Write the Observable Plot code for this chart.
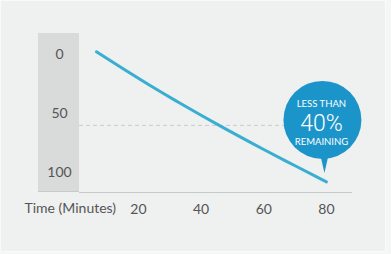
<!DOCTYPE html>
<html><head><meta charset="utf-8">
<script src="https://cdn.jsdelivr.net/npm/d3@7"></script>
<script src="https://cdn.jsdelivr.net/npm/@observablehq/plot@0.6"></script>
<style>
html,body{margin:0;padding:0;background:#f5f6f6;}
#wrap{position:relative;width:391px;height:254px;overflow:hidden;}
#panel{position:absolute;left:0;top:0;width:384px;height:250px;background:#eff0f0;border:1px solid #f9fafa;}
#band{position:absolute;left:38px;top:33px;width:41px;height:159px;background:#d9dada;border-bottom:1px solid #c8c9c9;box-sizing:border-box;}
#chart{position:absolute;left:0;top:0;}
</style></head><body>
<div id="wrap"><div id="panel"></div><div id="band"></div><div id="chart"></div></div>
<script>
const minutes = [6.6, 15, 24, 32, 40, 50, 60, 70, 80];
const used = [-2.5, 11.8, 26.6, 39.2, 51.4, 66.2, 80.5, 94.3, 108];
const yTicks = [0, 50, 100];
const xTicks = [20, 40, 60, 80];
const xTitle = "Time (Minutes)";
const threshold = [60];
const calloutLines = ["LESS THAN", "40%", "REMAINING"];

const data = minutes.map((m, i) => ({m, v: used[i]}));
const last = data[data.length - 1];
const font = "Lato, 'Open Sans', sans-serif";
const blue = "#1b95c9";

const plot = Plot.plot({
  width: 391, height: 254,
  marginLeft: 79, marginRight: 40, marginTop: 33, marginBottom: 62,
  style: {background: "transparent", fontFamily: font, fontSize: "14px", color: "#555"},
  x: {domain: [1.2, 88]},
  y: {domain: [-18, 117], reverse: true},
  marks: [
    Plot.ruleY(threshold, {stroke: "#c9caca", strokeDasharray: "4,3"}),
    Plot.frame({anchor: "bottom", stroke: "#c8c9c9", strokeOpacity: 1}),
    Plot.axisY(yTicks, {tickSize: 0, tickPadding: 0, dx: -20, textAnchor: "middle", label: null, fill: "#555"}),
    Plot.axisX(xTicks, {tickSize: 0, tickPadding: 12, label: null, fill: "#555"}),
    Plot.text([xTitle], {frameAnchor: "bottom-left", dx: -55, dy: 20, textAnchor: "start", fill: "#555"}),
    Plot.line(data, {x: "m", y: "v", stroke: "#3aaed1", strokeWidth: 3, curve: "natural", strokeLinecap: "round"}),
    Plot.vector([last], {x: "m", y: "v", anchor: "end", rotate: 180, length: 22, r: 5, shape: "spike", fill: blue, stroke: "none", dx: -2, dy: -9}),
    Plot.dot([last], {x: "m", y: "v", r: 39, fill: blue, stroke: "none", dx: -4, dy: -62}),
    Plot.text([last], {x: "m", y: "v", text: () => calloutLines[0], fill: "white", fontSize: 9.5, dx: -5, dy: -78}),
    Plot.text([last], {x: "m", y: "v", text: () => calloutLines[1], fill: "white", fontSize: 23, fontWeight: 300, fontFamily: "Roboto, Lato, sans-serif", dx: -5, dy: -58}),
    Plot.text([last], {x: "m", y: "v", text: () => calloutLines[2], fill: "white", fontSize: 9.5, dx: -5, dy: -40})
  ]
});
document.getElementById("chart").appendChild(plot);
</script>
</body></html>
